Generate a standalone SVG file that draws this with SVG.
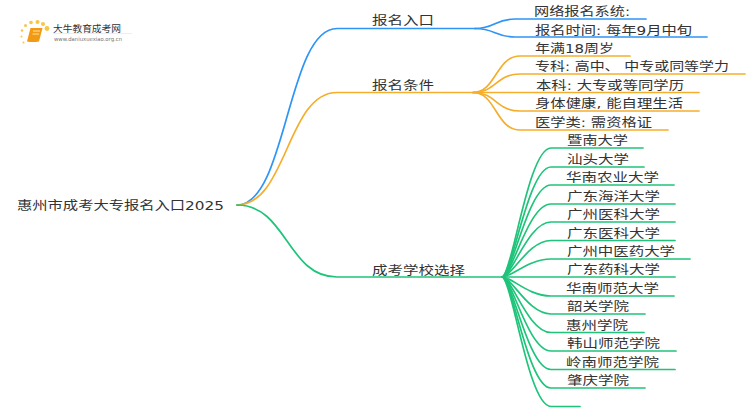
<svg xmlns="http://www.w3.org/2000/svg" width="750" height="410" viewBox="0 0 750 410">
<style>
text{font-family:"DejaVu Sans","Noto Sans CJK SC",sans-serif;fill:#333;font-size:12.500px}
.c path{fill:none;stroke-width:1.700;stroke-linecap:round}
.b path{stroke:#2f95f5}.o path{stroke:#f5ae2b}.g path{stroke:#1fc47a}
</style>
<rect width="750" height="410" fill="#fff"/>
<g id="logo">
<g fill="#f9c544"><circle cx="47" cy="28.500" r="2.400"/><circle cx="43" cy="24" r="2"/><circle cx="37.500" cy="22" r="2"/><circle cx="31" cy="22.500" r="1.800"/><circle cx="25.500" cy="25.500" r="1.500"/><circle cx="22" cy="30.500" r="1.200"/><circle cx="21.500" cy="36.500" r="1"/><circle cx="23.500" cy="42.500" r="1"/></g>
<path d="M30.500 28H42.500L39 41.500Q33 42.500 27 41.500Z" fill="#f39a14"/><path d="M33 31H40M32.500 34H39" stroke="#fde3a8" stroke-width="1"/>
<text x="53" y="32" textLength="68" lengthAdjust="spacingAndGlyphs" style="font-size:9.500px">大牛教育成考网</text>
<path d="M53 33.500H132" stroke="#eee" stroke-width="1"/>
<text x="54" y="41" textLength="68" lengthAdjust="spacingAndGlyphs" style="font-size:5.500px;fill:#777">www.daniuxuexiao.org.cn</text>
</g>
<g class="c" id="connectors">
<g class="b"><path d="M237 205C287 205 287 28.500 337 28.500H475"/><path d="M475 28.500C495 28.500 495 19 515 19H646"/><path d="M475 28.500C495 28.500 495 37 515 37H707"/></g>
<g class="o"><path d="M237 205C287 205 287 92.500 337 92.500H473"/><path d="M473 92.500C496 92.500 496 56 520 56H630"/><path d="M473 92.500C496 92.500 496 74 520 74H745"/><path d="M473 92.500H699"/><path d="M473 92.500C496 92.500 496 111 520 111H699"/><path d="M473 92.500C496 92.500 496 130 520 130H668"/></g>
<g class="g"><path d="M237 205C287 205 287 277 337 277H502"/>
<path d="M502 277C512 277 528 148 551 148H643"/><path d="M502 277C512 277 528 167 551 167H644"/><path d="M502 277C512 277 528 185 551 185H674"/><path d="M502 277C512 277 528 204 551 204H675"/><path d="M502 277C512 277 528 222 551 222H675"/><path d="M502 277C512 277 528 240.500 551 240.500H675"/><path d="M502 277C512 277 528 259 551 259H690"/><path d="M502 277H675"/><path d="M502 277C512 277 528 296 551 296H674"/><path d="M502 277C512 277 528 314 551 314H645"/><path d="M502 277C512 277 528 332.500 551 332.500H644"/><path d="M502 277C512 277 528 351 551 351H676"/><path d="M502 277C512 277 528 369.500 551 369.500H675"/><path d="M502 277C512 277 528 388 551 388H645"/><path d="M502 277C512 277 528 406.500 551 406.500H580"/></g>
</g>
<g id="root"><text x="17" y="209.500" textLength="207" lengthAdjust="spacingAndGlyphs">惠州市成考大专报名入口2025</text></g>
<g id="n1"><text x="372" y="25" textLength="62" lengthAdjust="spacingAndGlyphs">报名入口</text></g>
<g id="n2"><text x="372" y="89.500" textLength="62" lengthAdjust="spacingAndGlyphs">报名条件</text></g>
<g id="n3"><text x="372" y="274.500" textLength="93" lengthAdjust="spacingAndGlyphs">成考学校选择</text></g>
<g id="leaf-a">
<text x="534" y="16" textLength="96" lengthAdjust="spacingAndGlyphs">网络报名系统:</text>
<text x="535" y="34.500" textLength="157" lengthAdjust="spacingAndGlyphs">报名时间: 每年9月中旬</text>
<text x="535" y="53" textLength="79" lengthAdjust="spacingAndGlyphs">年满18周岁</text>
<text x="535" y="71" textLength="194" lengthAdjust="spacingAndGlyphs">专科: 高中、 中专或同等学力</text>
<text x="536" y="89.500" textLength="148" lengthAdjust="spacingAndGlyphs">本科: 大专或等同学历</text>
<text x="535" y="108" textLength="148" lengthAdjust="spacingAndGlyphs">身体健康, 能自理生活</text>
<text x="535" y="126.500" textLength="117" lengthAdjust="spacingAndGlyphs">医学类: 需资格证</text>
</g>
<g id="leaf-b">
<text x="567" y="145" textLength="61" lengthAdjust="spacingAndGlyphs">暨南大学</text>
<text x="567" y="163.500" textLength="62" lengthAdjust="spacingAndGlyphs">汕头大学</text>
<text x="566" y="182" textLength="93" lengthAdjust="spacingAndGlyphs">华南农业大学</text>
<text x="567" y="200.500" textLength="93" lengthAdjust="spacingAndGlyphs">广东海洋大学</text>
<text x="567" y="219" textLength="93" lengthAdjust="spacingAndGlyphs">广州医科大学</text>
<text x="567" y="237.500" textLength="93" lengthAdjust="spacingAndGlyphs">广东医科大学</text>
<text x="567" y="255.500" textLength="108" lengthAdjust="spacingAndGlyphs">广州中医药大学</text>
<text x="567" y="274" textLength="93" lengthAdjust="spacingAndGlyphs">广东药科大学</text>
<text x="566" y="292.500" textLength="93" lengthAdjust="spacingAndGlyphs">华南师范大学</text>
<text x="567" y="311" textLength="62" lengthAdjust="spacingAndGlyphs">韶关学院</text>
<text x="566" y="329.500" textLength="62" lengthAdjust="spacingAndGlyphs">惠州学院</text>
<text x="567" y="348" textLength="93" lengthAdjust="spacingAndGlyphs">韩山师范学院</text>
<text x="566" y="366.500" textLength="93" lengthAdjust="spacingAndGlyphs">岭南师范学院</text>
<text x="567" y="385" textLength="62" lengthAdjust="spacingAndGlyphs">肇庆学院</text>
</g>
</svg>
